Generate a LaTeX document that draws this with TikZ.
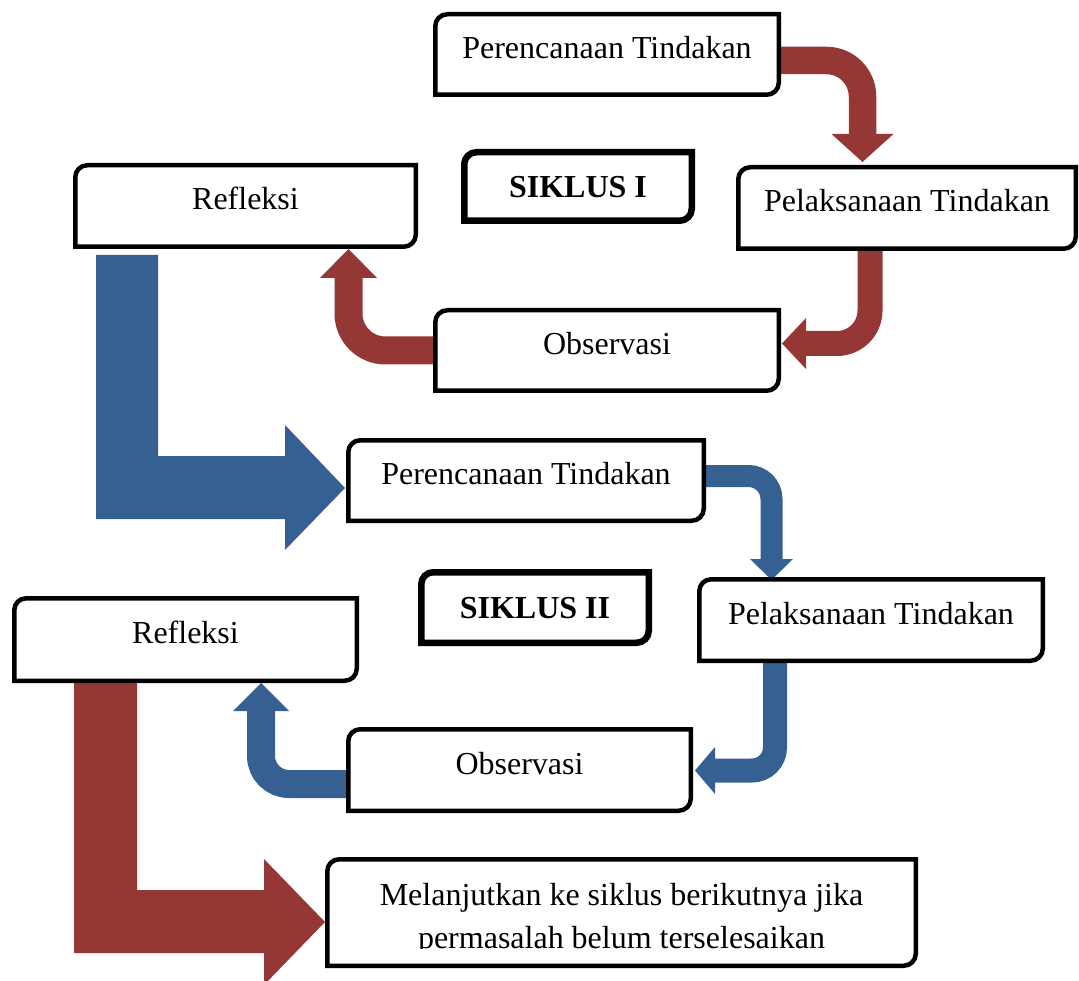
\documentclass[tikz,border=0pt]{standalone}
\usepackage{fontspec}
\setmainfont{Liberation Serif}
\usetikzlibrary{calc}
\definecolor{arrred}{HTML}{953735}
\definecolor{arrblue}{HTML}{376092}
\pgfdeclarelayer{arrowlayer}
\pgfdeclarelayer{boxlayer}
\pgfsetlayers{arrowlayer,boxlayer,main}
\tikzset{
  boxnode/.style={inner sep=0pt, outer sep=0pt, font=\fontsize{32pt}{43pt}\selectfont, text height=22pt, text depth=14pt},
  siknode/.style={inner sep=0pt, outer sep=0pt, font=\fontsize{32pt}{43pt}\selectfont\bfseries, text height=22pt, text depth=0pt},
  redband/.style={draw=arrred, line width=#1, line cap=butt},
  blueband/.style={draw=arrblue, line width=#1, line cap=butt},
}
\newcommand{\dgborder}[2]{%
  \filldraw[fill=white, draw=black, line width=#2, line join=miter]
    (#1.south west) -- ($(#1.north west)+(0,12)$) arc[start angle=180, end angle=270, radius=12]
    -- (#1.north east) -- ($(#1.south east)+(0,-12)$) arc[start angle=0, end angle=90, radius=12] -- cycle;}
\begin{document}
\begin{tikzpicture}[x=1pt, y=-1pt]
\useasboundingbox (0,0) rectangle (1079,981);

% boxes (text on main layer)
\node[boxnode, minimum width=343.5pt, minimum height=80.5pt] (p1) at (607,54.5) {Perencanaan Tindakan};
\node[boxnode, minimum width=337.5pt, minimum height=81.5pt] (pel1) at (907,208) {Pelaksanaan Tindakan};
\node[boxnode, minimum width=343.5pt, minimum height=80.5pt] (obs1) at (607,350.5) {Observasi};
\node[siknode, minimum width=227.5pt, minimum height=68.5pt] (sik1) at (578,186.5) {SIKLUS I};
\node[boxnode, minimum width=340.5pt, minimum height=81.5pt] (ref1) at (245.5,206) {Refleksi};
\node[boxnode, minimum width=355.5pt, minimum height=80.5pt] (p2) at (526,480.5) {Perencanaan Tindakan};
\node[siknode, minimum width=227.5pt, minimum height=70.5pt] (sik2) at (535,607.5) {SIKLUS II};
\node[boxnode, minimum width=343.5pt, minimum height=81.5pt] (pel2) at (871,620) {Pelaksanaan Tindakan};
\node[boxnode, minimum width=342.5pt, minimum height=81.5pt] (obs2) at (519.5,770) {Observasi};
\node[boxnode, minimum width=342.5pt, minimum height=82.5pt] (ref2) at (185.5,639.5) {Refleksi};
\node[boxnode, minimum width=588.5pt, minimum height=106.5pt] (m) at (621.5,912.5) {};
\begin{scope}
  \clip (320,850) rectangle (925,948.5);
  \node[inner sep=0pt, anchor=base, font=\fontsize{32pt}{43pt}\selectfont] (mtext) at (621.5,905)
    {\begin{tabular}[t]{@{}c@{}}Melanjutkan ke siklus berikutnya jika\\permasalah belum terselesaikan\end{tabular}};
\end{scope}

\begin{pgfonlayer}{boxlayer}
  \foreach \b in {p1,pel1,obs1,ref1,p2,pel2,obs2,ref2,m} {\dgborder{\b}{4.5pt}}
  \dgborder{sik1}{6.5pt}
  \dgborder{sik2}{6.5pt}
\end{pgfonlayer}

\begin{pgfonlayer}{arrowlayer}
  \clip (0,0) rectangle (1079,981);
  % cycle I (red)
  \draw[redband=27.5pt, rounded corners=36pt] (p1.east |- 0,60.5) -- (862.5,60.5) -- (862.5,135);
  \fill[arrred] (831.5,134) -- (893.5,134) -- (862.5,162) -- cycle;
  \draw[redband=25pt, rounded corners=33pt] (pel1.south -| 870,0) -- (870,343.5) -- (805,343.5);
  \fill[arrred] (806,318) -- (806,369) -- (782,343.5) -- cycle;
  \draw[redband=28pt, rounded corners=37pt] (obs1.west |- 0,350.5) -- (348.5,350.5) -- (348.5,277);
  \fill[arrred] (320,278) -- (377,278) -- (348.5,249) -- cycle;
  % big blue L
  \fill[arrblue] (96,255) -- (158,255) -- (158,456) -- (285,456) -- (285,425) -- (345,488)
     -- (285,550) -- (285,519) -- (96,519) -- cycle;
  % cycle II (blue)
  \draw[blueband=22pt, rounded corners=23pt] (p2.east |- 0,476) -- (771.5,476) -- (771.5,560);
  \fill[arrblue] (750,559) -- (793,559) -- (771.5,580) -- cycle;
  \draw[blueband=24pt, rounded corners=23pt] (pel2.south -| 775,0) -- (775,770.5) -- (714,770.5);
  \fill[arrblue] (715,747) -- (715,794) -- (695,770.5) -- cycle;
  \draw[blueband=28pt, rounded corners=28pt] (obs2.west |- 0,784) -- (261,784) -- (261,710);
  \fill[arrblue] (233,711) -- (289,711) -- (261,683) -- cycle;
  % big red L
  \fill[arrred] (74,682) -- (137,682) -- (137,890) -- (264,890) -- (264,859) -- (325,922)
     -- (264,985) -- (264,953) -- (74,953) -- cycle;
\end{pgfonlayer}
\end{tikzpicture}
\end{document}
